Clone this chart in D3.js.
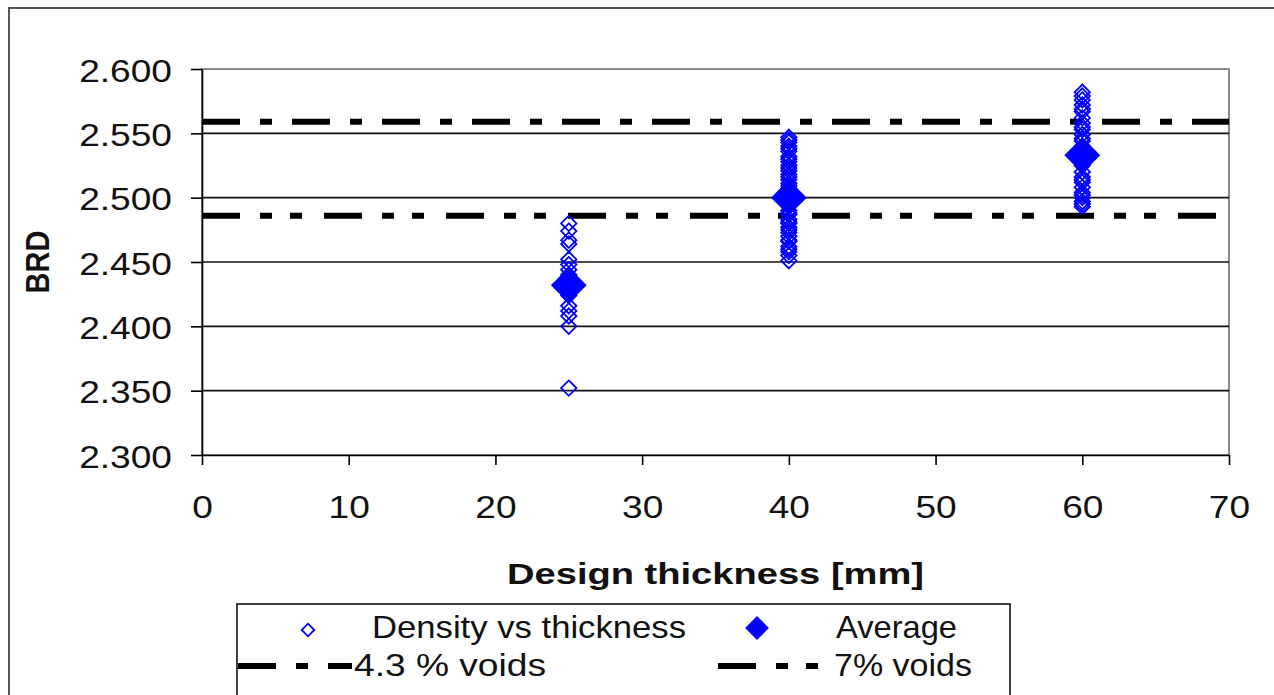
<!DOCTYPE html>
<html><head><meta charset="utf-8">
<script src="https://cdn.jsdelivr.net/npm/d3@7"></script>
<style>body{margin:0;background:#fff;} svg{display:block;font-family:"Liberation Sans",Arial,sans-serif;}</style>
</head><body><svg id="c" width="1274" height="695"></svg>
<script>
// ---- data ----
const thicknesses = [25, 40, 60];
const densityAt25 = [2.480, 2.474, 2.467, 2.464, 2.452, 2.448, 2.444, 2.440, 2.436, 2.430, 2.424, 2.416, 2.412, 2.408, 2.400, 2.352];
const densityAt40 = [2.547, 2.545, 2.543, 2.540, 2.538, 2.536, 2.532, 2.530, 2.528, 2.525, 2.523, 2.521, 2.518, 2.516, 2.514, 2.511, 2.509, 2.507, 2.504, 2.502, 2.500, 2.497, 2.495, 2.494, 2.490, 2.488, 2.487, 2.483, 2.481, 2.480, 2.477, 2.475, 2.473, 2.470, 2.467, 2.466, 2.462, 2.460, 2.458, 2.455, 2.451];
const densityAt60 = [2.582, 2.579, 2.576, 2.572, 2.569, 2.567, 2.562, 2.558, 2.555, 2.553, 2.549, 2.546, 2.544, 2.540, 2.535, 2.530, 2.527, 2.525, 2.520, 2.516, 2.514, 2.512, 2.508, 2.504, 2.502, 2.500, 2.497, 2.495, 2.493];
const averages = [2.432, 2.500, 2.533];
const voidsLevels = [2.559, 2.486];           // 4.3 % voids, 7% voids
const voidsLabels = ["4.3 % voids", "7% voids"];
const voidsRange = [0, 70];
const yTicks = [2.300, 2.350, 2.400, 2.450, 2.500, 2.550, 2.600];
const xTicks = [0, 10, 20, 30, 40, 50, 60, 70];
const seriesLabels = ["Density vs thickness", "Average"];
const xTitle = "Design thickness [mm]";
const yTitle = "BRD";

// ---- layout ----
const svg = d3.select("#c");
const L = 202, R = 1229, T = 69, B = 455;
const x = d3.scaleLinear([0, 70], [L, R]);
const y = d3.scaleLinear([2.3, 2.6], [B, T]);
const blue = "#0000ff";
const dashes = ["38,20,12,20", "38,20,12,18,12,22"];
const SX = 1.16;

svg.append("rect").attr("width", 1274).attr("height", 695).attr("fill", "#fff");
// outer chart frame
svg.append("rect").attr("x", 9).attr("y", 8).attr("width", 1300).attr("height", 720)
  .attr("fill", "none").attr("stroke", "#555").attr("stroke-width", 2);

// plot area border (grey)
svg.append("rect").attr("x", L).attr("y", T).attr("width", R - L).attr("height", B - T)
  .attr("fill", "none").attr("stroke", "#8a8a8a").attr("stroke-width", 2);

// gridlines
svg.append("g").selectAll("line").data(yTicks.filter(d => d > 2.3 && d < 2.6)).join("line")
  .attr("x1", L).attr("x2", R).attr("y1", d => y(d)).attr("y2", d => y(d))
  .attr("stroke", "#111").attr("stroke-width", 1.6);

// axes
const yAx = svg.append("g").attr("transform", `translate(${L},0)`)
  .call(d3.axisLeft(y).tickValues(yTicks).tickFormat(d3.format(".3f")).tickSize(11).tickSizeOuter(0));
const xAx = svg.append("g").attr("transform", `translate(0,${B})`)
  .call(d3.axisBottom(x).tickValues(xTicks).tickFormat(d3.format("d")).tickSize(10).tickSizeOuter(0));
[yAx, xAx].forEach(a => {
  a.select(".domain").attr("stroke", "#000").attr("stroke-width", 1.6);
  a.selectAll(".tick line").attr("stroke", "#000").attr("stroke-width", 1.6);
  a.selectAll("text").attr("font-size", 32).attr("fill", "#111").attr("font-family", "Liberation Sans, Arial, sans-serif");
});
yAx.selectAll(".tick text").attr("x", 0).attr("dy", null).attr("y", 0)
  .attr("dominant-baseline", "central").attr("text-anchor", "end")
  .attr("transform", `translate(-30,1) scale(${SX},1)`);
xAx.selectAll(".tick text").attr("y", 0).attr("dy", null)
  .attr("dominant-baseline", "central").attr("text-anchor", "middle")
  .attr("transform", `translate(0,52) scale(${SX},1)`);

// voids lines
svg.append("g").selectAll("line").data(voidsLevels).join("line")
  .attr("x1", x(voidsRange[0])).attr("x2", x(voidsRange[1]))
  .attr("y1", d => y(d)).attr("y2", d => y(d))
  .attr("stroke", "#000").attr("stroke-width", 6)
  .attr("stroke-dasharray", (d, i) => dashes[i]);

// points
const sets = [densityAt25, densityAt40, densityAt60];
const pts = [];
sets.forEach((arr, i) => arr.forEach(v => pts.push([thicknesses[i], v])));
const hollow = d3.symbol().type(d3.symbolDiamond2).size(150);
svg.append("g").selectAll("path").data(pts).join("path")
  .attr("d", hollow)
  .attr("transform", d => `translate(${x(d[0])},${y(d[1])})`)
  .attr("fill", "none").attr("stroke", blue).attr("stroke-width", 1.8);
const filled = d3.symbol().type(d3.symbolDiamond2).size(820);
svg.append("g").selectAll("path").data(averages).join("path")
  .attr("d", filled)
  .attr("transform", (d, i) => `translate(${x(thicknesses[i])},${y(d)})`)
  .attr("fill", blue);

// axis titles
svg.append("text").attr("x", (L + R) / 2).attr("y", 573).attr("text-anchor", "middle")
  .attr("dominant-baseline", "central").attr("font-weight", "bold").attr("font-size", 30)
  .attr("textLength", 417).attr("lengthAdjust", "spacingAndGlyphs").attr("fill", "#111").text(xTitle);
svg.append("text").attr("transform", `translate(38,${(T + B) / 2}) rotate(-90) scale(1,${SX})`)
  .attr("text-anchor", "middle").attr("dominant-baseline", "central")
  .attr("font-weight", "bold").attr("font-size", 29).attr("fill", "#111").text(yTitle);

// legend
const lg = svg.append("g");
lg.append("rect").attr("x", 237).attr("y", 604).attr("width", 773).attr("height", 140)
  .attr("fill", "#fff").attr("stroke", "#111").attr("stroke-width", 1.6);
lg.append("path").attr("d", d3.symbol().type(d3.symbolDiamond2).size(100))
  .attr("transform", "translate(308,630)").attr("fill", "none").attr("stroke", blue).attr("stroke-width", 1.8);
lg.append("path").attr("d", d3.symbol().type(d3.symbolDiamond2).size(360))
  .attr("transform", "translate(757,628)").attr("fill", blue);
const legText = [
  {t: seriesLabels[0], x: 372, y: 627, w: 314},
  {t: seriesLabels[1], x: 836, y: 627, w: 121},
  {t: voidsLabels[0], x: 354, y: 665, w: 192},
  {t: voidsLabels[1], x: 834, y: 665, w: 138}
];
lg.selectAll("text").data(legText).join("text")
  .attr("x", d => d.x).attr("y", d => d.y).attr("dominant-baseline", "central")
  .attr("font-size", 32).attr("fill", "#111")
  .attr("textLength", d => d.w).attr("lengthAdjust", "spacingAndGlyphs").text(d => d.t);
const sampleX = [[238, 352], [718, 832]];
lg.selectAll("line.s").data(voidsLevels).join("line").attr("class", "s")
  .attr("x1", (d, i) => sampleX[i][0]).attr("x2", (d, i) => sampleX[i][1])
  .attr("y1", 666).attr("y2", 666).attr("stroke", "#000").attr("stroke-width", 6)
  .attr("stroke-dasharray", (d, i) => dashes[i]);
</script></body></html>
